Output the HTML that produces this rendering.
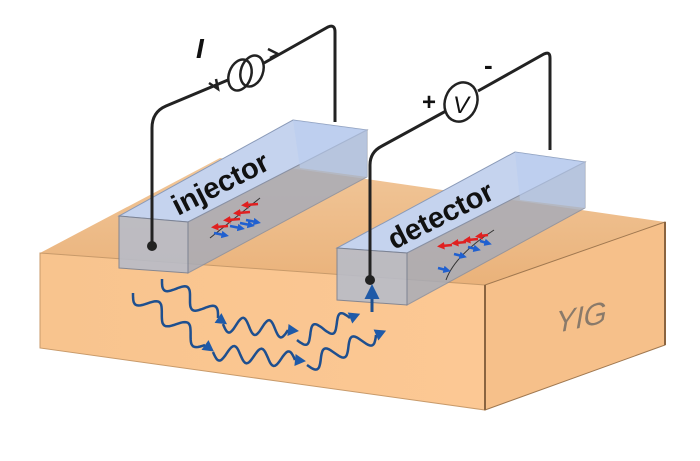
<!DOCTYPE html>
<html><head><style>body{margin:0;background:#fff}svg{display:block}</style></head>
<body>
<svg id="s" width="700" height="461" viewBox="0 0 700 461" xmlns="http://www.w3.org/2000/svg">
<defs>
<linearGradient id="top" x1="0" y1="0" x2="0" y2="1"><stop offset="0" stop-color="#f1c79a"/><stop offset="1" stop-color="#eab27a"/></linearGradient>
<linearGradient id="front" x1="0" y1="0" x2="1" y2="0"><stop offset="0" stop-color="#f8c48e"/><stop offset="1" stop-color="#fcc894"/></linearGradient>
<marker id="ah" markerWidth="5" markerHeight="5" refX="1" refY="2.5" orient="auto"><path d="M0,0 L5,2.5 L0,5 Z" fill="#1f5aa8"/></marker>
<marker id="ar" markerWidth="3" markerHeight="3" refX="1" refY="1.5" orient="auto"><path d="M0,0 L3,1.5 L0,3 Z" fill="#e02020"/></marker>
<marker id="ab" markerWidth="3" markerHeight="3" refX="1" refY="1.5" orient="auto"><path d="M0,0 L3,1.5 L0,3 Z" fill="#2060d0"/></marker>
</defs>
<polygon points="40,253 220,158 665,222 485,285" fill="url(#top)"/>
<polygon points="40,253 485,285 485,410 40,348" fill="url(#front)" stroke="#c89a6a" stroke-width="1"/>
<polygon points="485,285 665,222 665,345 485,410" fill="#f6c08a" stroke="#a07850" stroke-width="1"/>
<line x1="485" y1="285" x2="485" y2="410" stroke="#8a6440" stroke-width="2"/>
<line x1="665" y1="222" x2="665" y2="345" stroke="#8a6440" stroke-width="2"/>
<text x="0" y="0" font-family="Liberation Sans, sans-serif" font-style="italic" font-size="30" fill="#8a7a6a" transform="translate(556,333) rotate(-12) skewX(-12)">YIG</text>
<!-- injector -->
<polygon points="119,216 293,120 367,130 188,222" fill="#c5d3ee" stroke="#8a9ab8" stroke-width="1"/>
<polygon points="188,222 367,130 367,177 188,273" fill="#a8acb8" opacity="0.85" stroke="#8a90a0"/>
<polygon points="119,216 188,222 188,273 119,268" fill="#b8bcc8" opacity="0.9" stroke="#7a8090"/>
<polygon points="293,120 367,130 367,177 300,168" fill="#b9cdf0" opacity="0.6"/>
<text x="0" y="0" font-family="Liberation Sans, sans-serif" font-weight="bold" font-size="29" fill="#111" transform="translate(178,216) rotate(-27)">injector</text>
<!-- detector -->
<polygon points="337,248 515,152 585,162 407,253" fill="#c5d3ee" stroke="#8a9ab8" stroke-width="1"/>
<polygon points="407,253 585,162 585,208 407,305" fill="#a8acb8" opacity="0.85" stroke="#8a90a0"/>
<polygon points="337,248 407,253 407,305 337,300" fill="#b8bcc8" opacity="0.9" stroke="#7a8090"/>
<polygon points="515,152 585,162 585,208 520,200" fill="#b9cdf0" opacity="0.6"/>
<text x="0" y="0" font-family="Liberation Sans, sans-serif" font-weight="bold" font-size="29" fill="#111" transform="translate(394,250) rotate(-27)">detector</text>
<!-- spins -->
<g stroke-width="2.5" fill="none">
<line x1="210" y1="238" x2="260" y2="198" stroke="#333" stroke-width="1"/>
<line x1="228" y1="226" x2="216" y2="227" stroke="#e02020" marker-end="url(#ar)"/>
<line x1="240" y1="219" x2="228" y2="220" stroke="#e02020" marker-end="url(#ar)"/>
<line x1="250" y1="212" x2="238" y2="213" stroke="#e02020" marker-end="url(#ar)"/>
<line x1="258" y1="204" x2="246" y2="205" stroke="#e02020" marker-end="url(#ar)"/>
<line x1="214" y1="233" x2="224" y2="235" stroke="#2060d0" marker-end="url(#ab)"/>
<line x1="230" y1="226" x2="240" y2="228" stroke="#2060d0" marker-end="url(#ab)"/>
<line x1="240" y1="223" x2="250" y2="225" stroke="#2060d0" marker-end="url(#ab)"/>
<line x1="246" y1="220" x2="256" y2="222" stroke="#2060d0" marker-end="url(#ab)"/>
<path d="M446,280 Q455,255 494,230" stroke="#333" stroke-width="1"/>
<line x1="452" y1="245" x2="442" y2="246" stroke="#e02020" marker-end="url(#ar)"/>
<line x1="466" y1="242" x2="456" y2="243" stroke="#e02020" marker-end="url(#ar)"/>
<line x1="478" y1="239" x2="468" y2="240" stroke="#e02020" marker-end="url(#ar)"/>
<line x1="488" y1="235" x2="480" y2="236" stroke="#e02020" marker-end="url(#ar)"/>
<line x1="438" y1="268" x2="446" y2="270" stroke="#2060d0" marker-end="url(#ab)"/>
<line x1="454" y1="254" x2="462" y2="256" stroke="#2060d0" marker-end="url(#ab)"/>
<line x1="468" y1="247" x2="476" y2="249" stroke="#2060d0" marker-end="url(#ab)"/>
<line x1="480" y1="241" x2="487" y2="243" stroke="#2060d0" marker-end="url(#ab)"/>
</g>
<g id="waves" stroke="#1e4f8f" stroke-width="2.5" fill="none"></g>
<line x1="372" y1="312" x2="372" y2="296" stroke="#1e4f8f" stroke-width="3" marker-end="url(#ah)"/>
<!-- wires -->
<g stroke="#222" stroke-width="3" fill="none">
<path d="M152,246 L152,128 Q152,112 166,106 L228,80"/>
<path d="M264,63 L328,27 Q335,24 335,32 L335,122"/>
<path d="M370,280 L370,165 Q370,152 382,146 L446,111"/>
<path d="M478,91 L544,54 Q550,51 550,58 L550,150"/>
<path d="M209,83 l9,6 l-2,-10" stroke-width="2.5"/>
<path d="M268,49 l10,5 l-8,4" stroke-width="2.5"/>
</g>
<circle cx="152" cy="246" r="5" fill="#222"/>
<circle cx="370" cy="280" r="5" fill="#222"/>
<g stroke="#222" stroke-width="2.5" fill="#fff">
<ellipse cx="240" cy="75" rx="11" ry="16" transform="rotate(20 240 75)"/>
<ellipse cx="252" cy="71" rx="11" ry="16" transform="rotate(20 252 71)" fill="none"/>
<ellipse cx="461" cy="102" rx="16" ry="20" transform="rotate(20 461 102)"/>
</g>
<text x="453" y="113" font-family="Liberation Sans, sans-serif" font-style="italic" font-size="24" fill="#111">V</text>
<text x="196" y="58" font-family="Liberation Sans, sans-serif" font-style="italic" font-weight="bold" font-size="28" fill="#111">I</text>
<text x="422" y="110" font-family="Liberation Sans, sans-serif" font-weight="bold" font-size="24" fill="#111">+</text>
<text x="484" y="74" font-family="Liberation Sans, sans-serif" font-weight="bold" font-size="26" fill="#111">-</text>
<script>
(function(){
var g=document.getElementById('waves');
var W=[[133,293,205,345,5],[162,279,218,318,4],[223,324,288,330,5],[297,340,350,318,4],[213,352,295,360,6],[307,365,376,335,5]];
W.forEach(function(w){
var x0=w[0],y0=w[1],x1=w[2],y1=w[3],n=w[4];
var dx=x1-x0,dy=y1-y0,L=Math.hypot(dx,dy),ux=dx/L,uy=dy/L,px=-uy,py=ux,A=8;
var d='M'+x0+','+y0,N=60;
for(var i=1;i<=N;i++){var t=i/N,s=A*Math.sin(t*n*Math.PI);
d+=' L'+(x0+dx*t+px*s).toFixed(1)+','+(y0+dy*t+py*s).toFixed(1);}
var p=document.createElementNS('http://www.w3.org/2000/svg','path');
p.setAttribute('d',d);g.appendChild(p);
var a=document.createElementNS('http://www.w3.org/2000/svg','path');
var tx=x1+ux*11,ty=y1+uy*11;
a.setAttribute('d','M'+tx+','+ty+' L'+(x1+px*6)+','+(y1+py*6)+' L'+(x1-px*6)+','+(y1-py*6)+' Z');
a.setAttribute('fill','#1f5aa8');a.setAttribute('stroke','none');g.appendChild(a);
});
})();
</script>
</svg>
</body></html>
